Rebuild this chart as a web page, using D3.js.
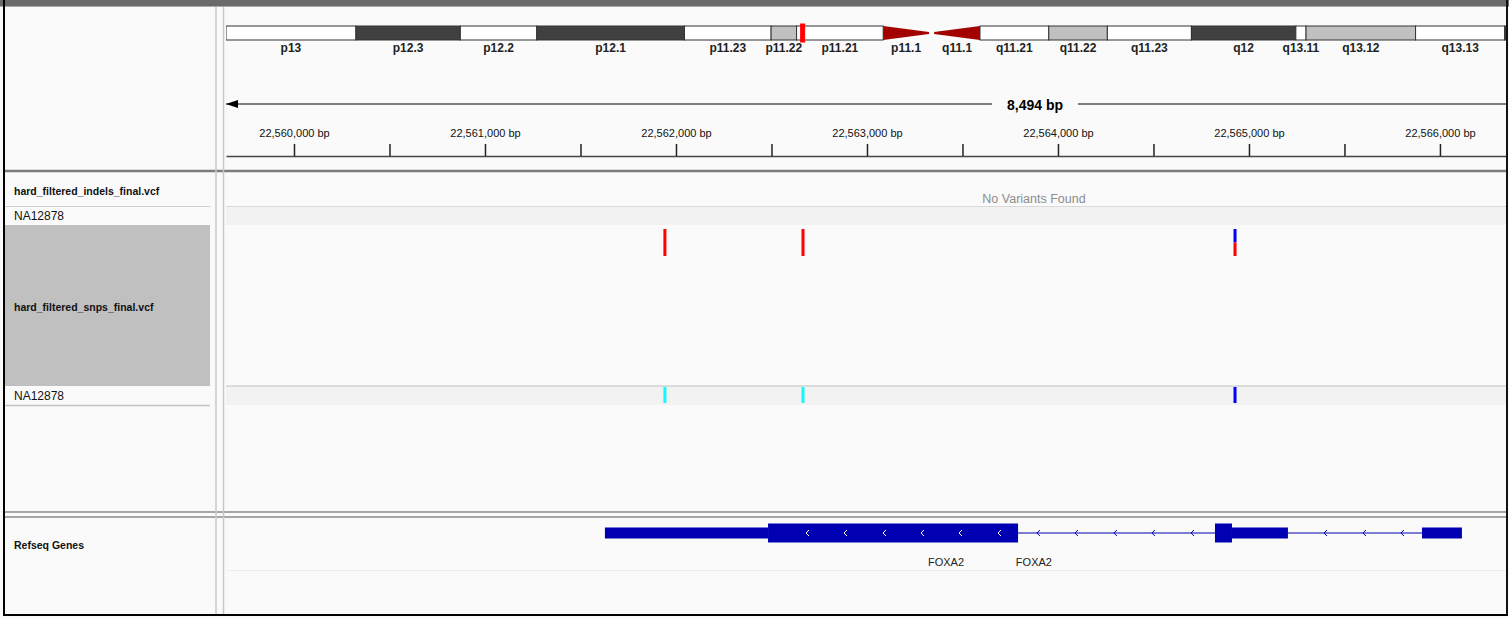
<!DOCTYPE html>
<html>
<head>
<meta charset="utf-8">
<script src="https://cdn.jsdelivr.net/npm/d3@7"></script>
<style>
  body { margin: 0; background: #fff; }
  svg { display: block; font-family: "Liberation Sans", Arial, sans-serif; }
</style>
</head>
<body>
<svg id="igv"></svg>
<script>
/* =======================
   DATA
   ======================= */

// chr20 cytobands, Mb
const bands = [
    { name: "p13",    start: 0,    end: 5.1,  stain: "gneg" },
    { name: "p12.3",  start: 5.1,  end: 9.2,  stain: "gpos100" },
    { name: "p12.2",  start: 9.2,  end: 12.2, stain: "gneg" },
    { name: "p12.1",  start: 12.2, end: 18.0, stain: "gpos100" },
    { name: "p11.23", start: 18.0, end: 21.4, stain: "gneg" },
    { name: "p11.22", start: 21.4, end: 22.4, stain: "gpos25" },
    { name: "p11.21", start: 22.4, end: 25.8, stain: "gneg" },
    { name: "p11.1",  start: 25.8, end: 27.6, stain: "acen" },
    { name: "q11.1",  start: 27.8, end: 29.6, stain: "acen" },
    { name: "q11.21", start: 29.6, end: 32.3, stain: "gneg" },
    { name: "q11.22", start: 32.3, end: 34.6, stain: "gpos25" },
    { name: "q11.23", start: 34.6, end: 37.9, stain: "gneg" },
    { name: "q12",    start: 37.9, end: 42.0, stain: "gpos100" },
    { name: "q13.11", start: 42.0, end: 42.4, stain: "gneg" },
    { name: "q13.12", start: 42.4, end: 46.7, stain: "gpos25" },
    { name: "q13.13", start: 46.7, end: 50.2, stain: "gneg" },
    { name: "q13.2",  start: 50.2, end: 54.0, stain: "gpos100" }
];
const ideogramDomain = [0, 50.25];

// current view, bp
const viewRange = [22559644, 22566351];
const regionLengthLabel = "8,494 bp";
const rulerTicks = d3.range(22560000, 22566001, 500);

// tracks
const trackNames = ["hard_filtered_indels_final.vcf", "hard_filtered_snps_final.vcf", "Refseq Genes"];
const sampleNames = ["NA12878"];
const indelVariants = [];
const snpPositions = [22561942, 22562665, 22564927];
const snpAlleleFreq = [1.0, 1.0, 0.5];
const snpGenotypes = ["HOM_VAR", "HOM_VAR", "HET"];

// FOXA2 (minus strand)
const geneBlocks = [
    { start: 22561628, end: 22562482, type: "utr" },
    { start: 22562482, end: 22563791, type: "cds" },
    { start: 22564822, end: 22564911, type: "cds" },
    { start: 22564911, end: 22565204, type: "utr" },
    { start: 22565906, end: 22566115, type: "utr" }
];
const geneSpan = [22561628, 22566115];
const strandArrows = [22562686, 22562885, 22563089, 22563288, 22563487, 22563691,
                      22563895, 22564094, 22564298, 22564497, 22564702,
                      22565398, 22565602, 22565801];
const geneLabels = [
    { name: "FOXA2", pos: 22563414 },
    { name: "FOXA2", pos: 22563874 }
];

/* =======================
   LAYOUT
   ======================= */
const W = 1509, H = 618;
const x0 = 226, x1 = 1507;   // data panel
const nameX = 14;

const svg = d3.select("#igv").attr("width", W).attr("height", H);

svg.append("defs").append("clipPath").attr("id", "dataClip")
    .append("rect").attr("x", x0).attr("y", 0).attr("width", x1 - x0).attr("height", H);

// background
svg.append("rect").attr("width", W).attr("height", H).attr("fill", "#fafafa");

const xScale = d3.scaleLinear().domain(viewRange).range([x0, x1]);
const ideoScale = d3.scaleLinear().domain(ideogramDomain).range([x0, 1506]);

/* Ideogram */
const ideoY = 26, ideoH = 14;
const stainColor = { gneg: "#ffffff", gpos25: "#c0c0c0", gpos100: "#404040" };
const ideo = svg.append("g").attr("clip-path", "url(#dataClip)");

ideo.selectAll("rect.band")
    .data(bands.filter(b => b.stain !== "acen"))
    .join("rect")
    .attr("class", "band")
    .attr("x", d => ideoScale(d.start))
    .attr("y", ideoY)
    .attr("width", d => ideoScale(d.end) - ideoScale(d.start))
    .attr("height", ideoH)
    .attr("fill", d => stainColor[d.stain])
    .attr("stroke", "#333")
    .attr("stroke-width", 1);

ideo.selectAll("path.cen")
    .data(bands.filter(b => b.stain === "acen"))
    .join("path")
    .attr("class", "cen")
    .attr("fill", "#a30000")
    .attr("d", d => {
        const a = ideoScale(d.start), b = ideoScale(d.end), m = ideoY + ideoH / 2;
        return d.name.startsWith("p")
            ? `M${a},${ideoY}L${b},${m - 1}L${b},${m + 1}L${a},${ideoY + ideoH}Z`
            : `M${b},${ideoY}L${a},${m - 1}L${a},${m + 1}L${b},${ideoY + ideoH}Z`;
    });

// only label bands whose centre falls inside the ideogram
ideo.selectAll("text.bandLabel")
    .data(bands.filter(b => (b.start + b.end) / 2 < ideogramDomain[1]))
    .join("text")
    .attr("class", "bandLabel")
    .attr("x", d => ideoScale((d.start + d.end) / 2))
    .attr("y", 52)
    .attr("text-anchor", "middle")
    .attr("font-size", 12)
    .attr("font-weight", "bold")
    .attr("fill", "#222")
    .text(d => d.name);

// current view marker
const vx = ideoScale(viewRange[0] / 1e6);
svg.append("rect")
    .attr("x", vx).attr("y", ideoY - 2)
    .attr("width", Math.max(4, ideoScale(viewRange[1] / 1e6) - vx)).attr("height", ideoH + 4)
    .attr("fill", "#ff0000").attr("stroke", "#ff0000").attr("stroke-width", 1);

/* Ruler */
const arrowY = 104;
svg.append("path")
    .attr("d", `M${x0},${arrowY}L${x0 + 12},${arrowY - 4}L${x0 + 12},${arrowY + 4}Z`)
    .attr("fill", "#000");
svg.append("line").attr("x1", x0).attr("x2", 992).attr("y1", arrowY).attr("y2", arrowY)
    .attr("stroke", "#000").attr("stroke-width", 1.2);
svg.append("line").attr("x1", 1078).attr("x2", x1).attr("y1", arrowY).attr("y2", arrowY)
    .attr("stroke", "#000").attr("stroke-width", 1.2);
svg.append("text")
    .attr("x", 1035).attr("y", arrowY + 6)
    .attr("text-anchor", "middle")
    .attr("font-size", 14).attr("font-weight", "bold")
    .text(regionLengthLabel);

const rulerAxis = d3.axisTop(xScale)
    .tickValues(rulerTicks)
    .tickSize(12)
    .tickSizeOuter(0)
    .tickPadding(7)
    .tickFormat(d => d % 1000 === 0 ? d3.format(",")(d) + " bp" : "");

const ruler = svg.append("g")
    .attr("transform", "translate(0,156)")
    .call(rulerAxis);
ruler.select(".domain").attr("stroke", "#444").attr("stroke-width", 1.5);
ruler.selectAll(".tick line").attr("stroke", "#222").attr("stroke-width", 1.5);
ruler.selectAll(".tick text")
    .attr("font-family", "Liberation Sans, Arial, sans-serif")
    .attr("font-size", 11)
    .attr("fill", "#111");

/* Row backgrounds & separators */
svg.append("rect").attr("x", x0).attr("y", 207).attr("width", x1 - x0).attr("height", 18).attr("fill", "#f2f2f2");
svg.append("rect").attr("x", x0).attr("y", 387).attr("width", x1 - x0).attr("height", 18).attr("fill", "#f2f2f2");
svg.append("rect").attr("x", 5).attr("y", 225).attr("width", 205).attr("height", 161).attr("fill", "#c0c0c0");

const hline = (xa, xb, y, color, w) =>
    svg.append("line").attr("x1", xa).attr("x2", xb).attr("y1", y).attr("y2", y)
        .attr("stroke", color).attr("stroke-width", w);

hline(x0, x1, 206.5, "#dadada", 1);
hline(5, 210, 206.5, "#d0d0d0", 1);
hline(x0, x1, 386, "#d0d0d0", 1.5);
hline(5, 210, 405.5, "#c4c4c4", 1.5);
hline(x0, x1, 570.5, "#ececec", 1);

/* Track names */
const names = svg.append("g");
const nameRows = [
    { text: trackNames[0], y: 195, bold: true },
    { text: sampleNames[0], y: 220, bold: false },
    { text: trackNames[1], y: 311, bold: true },
    { text: sampleNames[0], y: 400, bold: false },
    { text: trackNames[2], y: 549, bold: true }
];
names.selectAll("text")
    .data(nameRows)
    .join("text")
    .attr("x", nameX)
    .attr("y", d => d.y)
    .attr("font-size", d => d.bold ? 10.5 : 12)
    .attr("font-weight", d => d.bold ? "bold" : "normal")
    .attr("fill", "#111")
    .text(d => d.text);

/* Indel track */
if (indelVariants.length === 0) {
    svg.append("text")
        .attr("x", 1034).attr("y", 203)
        .attr("text-anchor", "middle")
        .attr("font-size", 12.5)
        .attr("fill", "#8c8c8c")
        .text("No Variants Found");
}

/* SNP track */
const afScale = d3.scaleLinear().domain([0, 1]).range([256, 229]);
const snps = snpPositions.map((pos, i) => ({ pos, af: snpAlleleFreq[i], gt: snpGenotypes[i] }));
const barW = 3;
const snpG = svg.append("g");

snpG.selectAll("rect.ref")
    .data(snps)
    .join("rect")
    .attr("class", "ref")
    .attr("x", d => xScale(d.pos) - barW / 2)
    .attr("y", afScale(1))
    .attr("width", barW)
    .attr("height", d => afScale(d.af) - afScale(1))
    .attr("fill", "#0000ff");

snpG.selectAll("rect.alt")
    .data(snps)
    .join("rect")
    .attr("class", "alt")
    .attr("x", d => xScale(d.pos) - barW / 2)
    .attr("y", d => afScale(d.af))
    .attr("width", barW)
    .attr("height", d => afScale(0) - afScale(d.af))
    .attr("fill", "#ff0000");

const gtColor = { HOM_VAR: "#11f8fe", HET: "#0000ff", HOM_REF: "#c8c8c8" };
snpG.selectAll("rect.gt")
    .data(snps)
    .join("rect")
    .attr("class", "gt")
    .attr("x", d => xScale(d.pos) - barW / 2)
    .attr("y", 387)
    .attr("width", barW)
    .attr("height", 16)
    .attr("fill", d => gtColor[d.gt]);

/* Gene track */
const geneY = 533, geneColor = "#0000b2";
const geneG = svg.append("g").attr("clip-path", "url(#dataClip)");

geneG.append("line")
    .attr("x1", xScale(geneSpan[0])).attr("x2", xScale(geneSpan[1]))
    .attr("y1", geneY).attr("y2", geneY)
    .attr("stroke", geneColor).attr("stroke-width", 1.2);

geneG.selectAll("rect.exon")
    .data(geneBlocks)
    .join("rect")
    .attr("class", "exon")
    .attr("x", d => xScale(d.start))
    .attr("y", d => d.type === "cds" ? geneY - 9.5 : geneY - 5.5)
    .attr("width", d => xScale(d.end) - xScale(d.start))
    .attr("height", d => d.type === "cds" ? 19 : 11)
    .attr("fill", geneColor);

const inCds = p => geneBlocks.some(b => b.type === "cds" && p > b.start && p < b.end);
geneG.selectAll("path.strand")
    .data(strandArrows)
    .join("path")
    .attr("class", "strand")
    .attr("d", d => {
        const x = xScale(d);
        return `M${x + 2},${geneY - 3}L${x - 1},${geneY}L${x + 2},${geneY + 3}`;
    })
    .attr("fill", "none")
    .attr("stroke", d => inCds(d) ? "#ffffff" : geneColor)
    .attr("stroke-width", 1);

geneG.selectAll("text.gene")
    .data(geneLabels)
    .join("text")
    .attr("class", "gene")
    .attr("x", d => xScale(d.pos))
    .attr("y", 566)
    .attr("text-anchor", "middle")
    .attr("font-size", 11)
    .attr("fill", "#222")
    .text(d => d.name);

/* Frame */
hline(5, x1, 171, "#7c7c7c", 2.5);
hline(5, x1, 512, "#8a8a8a", 1.5);
hline(5, x1, 517, "#8a8a8a", 1.5);

svg.append("line").attr("x1", 216).attr("x2", 216).attr("y1", 6).attr("y2", 614)
    .attr("stroke", "#c8c8c8").attr("stroke-width", 1.5);
svg.append("line").attr("x1", 223.5).attr("x2", 223.5).attr("y1", 6).attr("y2", 614)
    .attr("stroke", "#c8c8c8").attr("stroke-width", 1.5);

svg.append("rect").attr("x", 0).attr("y", 0).attr("width", W).attr("height", 6).attr("fill", "#6a6a6a");
hline(0, W, 6.5, "#a8a8a8", 1);
svg.append("rect").attr("x", 3).attr("y", 0).attr("width", 2).attr("height", 616).attr("fill", "#000");
svg.append("rect").attr("x", 1506).attr("y", 0).attr("width", 2).attr("height", 616).attr("fill", "#111");
svg.append("rect").attr("x", 3).attr("y", 614).attr("width", 1505).attr("height", 2).attr("fill", "#000");
</script>
</body>
</html>
